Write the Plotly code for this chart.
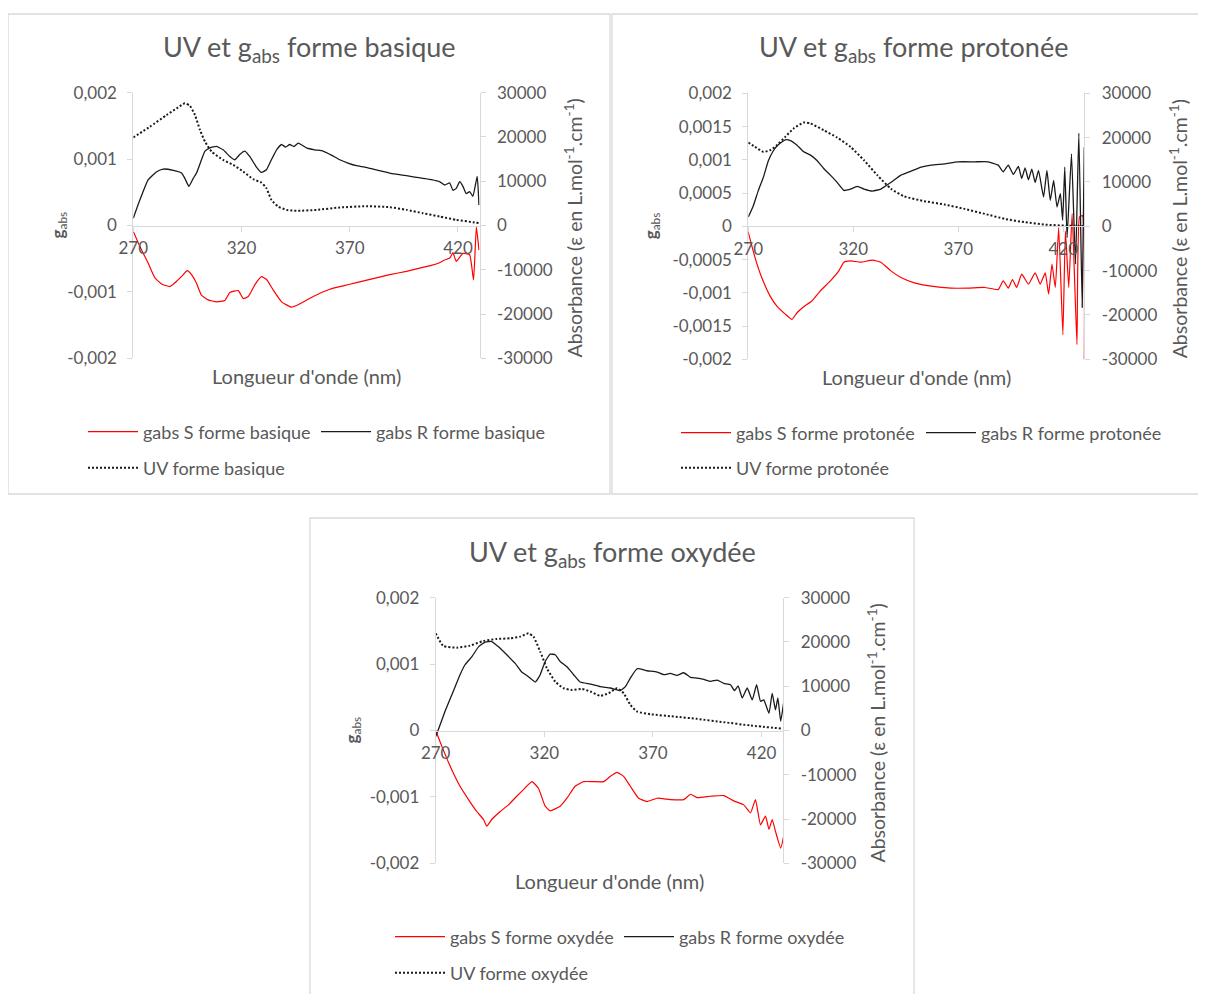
import plotly.graph_objects as go

# ---------------- données lues sur les spectres ----------------
# forme basique
x_s_bas = [270, 273.1, 276.9, 280, 283.1, 286.9, 290, 293.1, 294.9, 296.9, 299.2, 301.5, 304.6, 308.5, 312.3,
           314.6, 318.5, 320.8, 323.1, 326.2, 329.2, 331.5, 334.6, 338.5, 343.1, 346.9, 353.1, 360.8, 366.9,
           373.1, 380.8, 388.5, 396.2, 403.8, 407.7, 411.5, 413.8, 416.2, 417.7, 419.2, 422.3, 425.4, 427.2,
           428.5, 429.7]
g_s_bas = [-0.00009, -0.00032, -0.00057, -0.00079, -0.00088, -0.00092, -0.00084, -0.00074, -0.00068, -0.00074,
           -0.00087, -0.00105, -0.00112, -0.00115, -0.00113, -0.00101, -0.00098, -0.00110, -0.00107, -0.00089,
           -0.00077, -0.00081, -0.00097, -0.00115, -0.00123, -0.00118, -0.00107, -0.00096, -0.00091, -0.00086,
           -0.00080, -0.00074, -0.00069, -0.00063, -0.00060, -0.00056, -0.00052, -0.00049, -0.00041, -0.00054,
           -0.00042, -0.00044, -0.00082, -0.00002, -0.00037]
x_r_bas = [270, 273.1, 276.9, 280.8, 283.8, 288.5, 292.3, 293.8, 295.7, 297.7, 299.2, 301.5, 303.1, 305.4, 308.5,
           311.5, 314.6, 316.9, 319.2, 321.5, 323.8, 326.9, 329.2, 331.5, 333.8, 336.2, 338.5, 340.4, 342.3,
           344.2, 346.2, 350, 353.8, 357.7, 361.5, 365.4, 369.2, 373.1, 376.9, 380.8, 384.6, 388.5, 392.3,
           396.2, 400, 403.8, 407.7, 411.5, 413.8, 416.2, 417.7, 419.2, 420.8, 422.3, 423.8, 425.4, 426.9,
           428.9, 429.7]
g_r_bas = [0.00011, 0.00039, 0.00069, 0.00081, 0.00085, 0.00083, 0.00079, 0.00071, 0.00059, 0.00071, 0.00079,
           0.00099, 0.00112, 0.00117, 0.00119, 0.00114, 0.00104, 0.00099, 0.00107, 0.00112, 0.00104, 0.00088,
           0.00080, 0.00084, 0.00099, 0.00114, 0.00122, 0.00118, 0.00122, 0.00119, 0.00124, 0.00117, 0.00114,
           0.00112, 0.00106, 0.00099, 0.00094, 0.00090, 0.00088, 0.00085, 0.00082, 0.00079, 0.00077, 0.00075,
           0.00073, 0.00071, 0.00069, 0.00066, 0.00061, 0.00064, 0.00053, 0.00056, 0.00066, 0.00059, 0.00048,
           0.00051, 0.00044, 0.00074, 0.00031]
x_uv_bas = [270, 277.7, 285.4, 290, 293.8, 296.2, 298.5, 300.8, 303.1, 306.2, 311.5, 316.2, 320.8, 325.4, 329.2,
            331.5, 333.8, 336.9, 340.8, 345.4, 354.6, 365.4, 377.7, 388.5, 396.2, 403.8, 411.5, 419.2, 426.9, 429.7]
uv_bas = [19900, 22330, 24960, 26470, 27600, 27000, 24960, 21580, 18950, 16690, 14810, 13680, 12180, 10450, 9700,
          8420, 5790, 4290, 3530, 3310, 3530, 4060, 4360, 4140, 3530, 2780, 2030, 1280, 750, 530]

# forme protonée
x_s_pro = [270, 273.2, 276.4, 280.4, 283.6, 287.6, 290.8, 293.2, 296.4, 300.4, 304.3, 309.1, 313.1, 315.5, 318.7,
           323.5, 329.1, 333.1, 337.9, 342.7, 349.1, 357.1, 366.6, 374.6, 382.6, 389, 391.4, 393.8, 395.8, 397.8,
           400.2, 403.4, 406.6, 409, 411.4, 413, 414.6, 416.2, 417.8, 419.8, 421, 422.6, 424.2, 426.5, 427.7,
           429.2, 430]
g_s_pro = [-0.00009, -0.00047, -0.00077, -0.00105, -0.00120, -0.00132, -0.00140, -0.00130, -0.00121, -0.00112,
           -0.00097, -0.00082, -0.00067, -0.00054, -0.00052, -0.00054, -0.00051, -0.00054, -0.00067, -0.00077,
           -0.00085, -0.00090, -0.00093, -0.00093, -0.00092, -0.00095, -0.00082, -0.00093, -0.00080, -0.00092,
           -0.00072, -0.00087, -0.00070, -0.00087, -0.00070, -0.00102, -0.00057, -0.00092, -0.00002, -0.00163,
           -0.00007, -0.00092, 0.00019, -0.00178, 0.00014, 0.00016, -0.00203]
x_r_pro = [270, 272.4, 274.8, 277.2, 279.6, 282, 284.4, 287.6, 290, 293.2, 296.4, 299.6, 302.7, 305.9, 309.1,
           312.3, 315.5, 317.9, 321.9, 325.1, 329.1, 333.1, 337.9, 342.7, 347.5, 352.3, 357.1, 363.5, 369.8,
           377.8, 384.2, 389, 391.4, 393.8, 396.2, 398.6, 400.2, 401.8, 403.4, 405, 406.6, 408.2, 410.6, 412.2,
           413.8, 415.4, 417, 418.6, 419.7, 420.7, 421.8, 423.9, 425.8, 427.4, 429, 430]
g_r_pro = [0.00014, 0.00031, 0.00054, 0.00074, 0.00099, 0.00114, 0.00123, 0.00130, 0.00129, 0.00122, 0.00112,
           0.00107, 0.00099, 0.00087, 0.00077, 0.00066, 0.00054, 0.00055, 0.00060, 0.00056, 0.00053, 0.00056,
           0.00066, 0.00077, 0.00083, 0.00089, 0.00092, 0.00094, 0.00097, 0.00097, 0.00097, 0.00092, 0.00082,
           0.00092, 0.00078, 0.00090, 0.00072, 0.00088, 0.00070, 0.00086, 0.00066, 0.00084, 0.00044, 0.00084,
           0.00039, 0.00069, 0.00029, 0.00049, 0.00009, 0.00089, -0.00017, 0.00109, -0.00057, 0.00140,
           -0.00122, 0.00119]
x_uv_pro = [270, 273.2, 277.2, 280.4, 283.6, 287.6, 291.6, 296.4, 299.6, 305.9, 312.3, 318.7, 325.1, 331.5, 337.9,
            344.3, 353.9, 363.5, 373, 382.6, 392.2, 401.8, 411.4, 421, 430]
uv_pro = [18900, 17910, 16780, 17160, 18290, 20180, 22070, 23430, 23200, 21690, 20030, 17910, 14890, 11490, 8470,
          6730, 5670, 4910, 3930, 2800, 1660, 910, 380, 150, 80]

# forme oxydée
x_s_oxy = [270, 272, 275.1, 278.1, 281.2, 285.1, 288.9, 292, 293.5, 295.8, 299.7, 303.5, 307.3, 310.4, 314.3,
           317.3, 320.4, 322.7, 327.3, 330.4, 334.2, 338.1, 342.7, 347.3, 350.4, 353.4, 356.5, 359.6, 363.4,
           367.3, 371.9, 378, 384.2, 387.3, 390.3, 396.5, 402.6, 407.2, 411.8, 414.9, 417.2, 419.5, 421.8,
           423.4, 424.9, 426.4, 428.8, 430.3]
g_s_oxy = [0, -0.00017, -0.00042, -0.00064, -0.00084, -0.00104, -0.00122, -0.00134, -0.00144, -0.00134, -0.00122,
           -0.00112, -0.00099, -0.00089, -0.00077, -0.00087, -0.00114, -0.00121, -0.00114, -0.00102, -0.00084,
           -0.00077, -0.00077, -0.00077, -0.00069, -0.00063, -0.00069, -0.00084, -0.00102, -0.00107, -0.00102,
           -0.00104, -0.00104, -0.00096, -0.00101, -0.00099, -0.00098, -0.00106, -0.00112, -0.00124, -0.00104,
           -0.00142, -0.00129, -0.00149, -0.00134, -0.00152, -0.00177, -0.00157]
x_r_oxy = [270, 271.2, 274.3, 278.1, 281.2, 283.5, 286.6, 289.7, 292.7, 295.8, 298.9, 302.7, 306.6, 309.6, 312.7,
           315.8, 318.1, 320.4, 322.7, 325, 327.3, 330.4, 333.5, 336.5, 341.2, 345.8, 350.4, 355, 357.3, 359.6,
           362.7, 367.3, 371.9, 375, 378, 381.1, 384.2, 387.3, 390.3, 393.4, 396.5, 399.6, 402.6, 405.7, 407.5,
           409.2, 411.1, 413.4, 415.7, 417.7, 419.5, 421, 423.4, 424.9, 426.4, 427.5, 428.8, 430.3]
g_r_oxy = [-0.00009, 0.00001, 0.00029, 0.00059, 0.00084, 0.00099, 0.00111, 0.00126, 0.00133, 0.00134, 0.00126,
           0.00114, 0.00101, 0.00088, 0.00081, 0.00073, 0.00084, 0.00104, 0.00115, 0.00114, 0.00104, 0.00096,
           0.00084, 0.00073, 0.00070, 0.00066, 0.00064, 0.00060, 0.00066, 0.00079, 0.00093, 0.00090, 0.00088,
           0.00084, 0.00086, 0.00083, 0.00087, 0.00080, 0.00079, 0.00077, 0.00074, 0.00076, 0.00071, 0.00069,
           0.00060, 0.00067, 0.00049, 0.00064, 0.00046, 0.00069, 0.00044, 0.00046, 0.00026, 0.00056, 0.00031,
           0.00049, 0.00014, 0.00045]
x_uv_oxy = [270, 273.5, 279.7, 285.8, 292, 298.1, 304.3, 308.9, 312.7, 315, 318.1, 321.2, 325, 328.9, 332.7,
            337.3, 341.2, 345.8, 349.6, 353.4, 356.5, 359.6, 362.7, 368.8, 379.6, 390.3, 402.6, 414.9, 430.3]
uv_oxy = [21950, 19100, 18720, 19170, 20230, 20680, 20830, 21200, 21950, 21200, 17820, 14060, 11050, 9550, 9170,
          9400, 8800, 7820, 8420, 9550, 8420, 5790, 4290, 3680, 3160, 2630, 1880, 1130, 380]

# graduations
x_ticks = [270, 320, 370, 420]
g_ticks = [-0.002, -0.001, 0, 0.001, 0.002]
g_labels = ["-0,002", "-0,001", "0", "0,001", "0,002"]
g_ticks_fin = [-0.002, -0.0015, -0.001, -0.0005, 0, 0.0005, 0.001, 0.0015, 0.002]
g_labels_fin = ["-0,002", "-0,0015", "-0,001", "-0,0005", "0", "0,0005", "0,001", "0,0015", "0,002"]
uv_ticks = [-30000, -20000, -10000, 0, 10000, 20000, 30000]
uv_labels = ["-30000", "-20000", "-10000", "0", "10000", "20000", "30000"]

# ---------------- mise en page ----------------
# la page ajoute une marge de 8 px autour de la figure : on la retire des coordonnées
DEC = 8
W, H = 1206 - DEC, 994 - DEC
GRIS = "#d9d9d9"
TXT = "#595959"
FONT = "Lato"


def fx(p):
    return (p - DEC) / W


def fy(p):
    return 1 - (p - DEC) / H


graphes = [
    dict(forme="basique", s=(x_s_bas, g_s_bas), r=(x_r_bas, g_r_bas), uv=(x_uv_bas, uv_bas),
         ticks=(g_ticks, g_labels), cadre=(8, 14, 610, 494), zone=(133.3, 92.7, 479.6, 358.3),
         leg_x=83, leg_y=(432, 468), entree=168, ytit_x=58, atit_x=573, titre_x=309),
    dict(forme="protonée", s=(x_s_pro, g_s_pro), r=(x_r_pro, g_r_pro), uv=(x_uv_pro, uv_pro),
         ticks=(g_ticks_fin, g_labels_fin), cadre=(612, 14, 1212, 494), zone=(748.3, 93.3, 1084.3, 359.3),
         leg_x=676, leg_y=(433, 468), entree=180, ytit_x=652, atit_x=1178, titre_x=913),
    dict(forme="oxydée", s=(x_s_oxy, g_s_oxy), r=(x_r_oxy, g_r_oxy), uv=(x_uv_oxy, uv_oxy),
         ticks=(g_ticks, g_labels), cadre=(310, 518, 914, 1000), zone=(435.7, 597.7, 783.3, 863.3),
         leg_x=390, leg_y=(937, 973), entree=164, ytit_x=352, atit_x=876, titre_x=612),
]

fig = go.Figure()
layout = dict(width=W, height=H, margin=dict(l=0, r=0, t=0, b=0, autoexpand=False),
              paper_bgcolor="white", plot_bgcolor="rgba(0,0,0,0)",
              font=dict(family=FONT, color=TXT, size=17), shapes=[], annotations=[])

axe = dict(showgrid=False, zeroline=False, showline=True, linecolor=GRIS, linewidth=1,
           ticks="outside", ticklen=5, tickcolor=GRIS, tickwidth=1, automargin=False,
           tickfont=dict(family=FONT, color=TXT, size=17))


def note(texte, x, y, taille, angle=0):
    return dict(text=texte, x=fx(x), y=fy(y), xref="paper", yref="paper", xanchor="center",
                yanchor="middle", showarrow=False, textangle=angle,
                font=dict(size=taille, color=TXT, family=FONT))


for i, g in enumerate(graphes):
    n = i + 1
    xa = "x" if n == 1 else f"x{n}"
    ya_g = "y" if n == 1 else f"y{2 * n - 1}"
    ya_uv = f"y{2 * n}"
    l1 = "legend" if n == 1 else f"legend{2 * n - 1}"
    l2 = f"legend{2 * n}"

    x0, y0, x1, y1 = g["zone"]
    dom_x = [fx(x0), fx(x1)]
    dom_y = [fy(y1), fy(y0)]

    fig.add_trace(go.Scatter(x=g["s"][0], y=g["s"][1], mode="lines", name=f"gabs S forme {g['forme']}",
                             line=dict(color="#ff0000", width=1.2, shape="spline", smoothing=0.4),
                             xaxis=xa, yaxis=ya_g, legend=l1))
    fig.add_trace(go.Scatter(x=g["r"][0], y=g["r"][1], mode="lines", name=f"gabs R forme {g['forme']}",
                             line=dict(color="#1a1a1a", width=1.3, shape="spline", smoothing=0.4),
                             xaxis=xa, yaxis=ya_g, legend=l1))
    fig.add_trace(go.Scatter(x=g["uv"][0], y=g["uv"][1], mode="lines", name=f"UV forme {g['forme']}",
                             line=dict(color="#1a1a1a", width=2, dash="2px,2px", shape="spline", smoothing=0.5),
                             xaxis=xa, yaxis=ya_uv, legend=l2))

    kx = "xaxis" if n == 1 else f"xaxis{n}"
    kg = "yaxis" if n == 1 else f"yaxis{2 * n - 1}"
    kuv = f"yaxis{2 * n}"
    layout[kx] = dict(axe, domain=dom_x, range=[270, 430], tickvals=x_ticks, anchor="free",
                      position=(dom_y[0] + dom_y[1]) / 2, ticklabelstandoff=2)
    layout[kg] = dict(axe, domain=dom_y, range=[-0.002, 0.002], tickvals=g["ticks"][0],
                      ticktext=g["ticks"][1], anchor=xa, ticklabelstandoff=7)
    layout[kuv] = dict(axe, range=[-30000, 30000], tickvals=uv_ticks, ticktext=uv_labels,
                       overlaying=ya_g, side="right", anchor=xa, ticklabelstandoff=8)

    leg = dict(orientation="h", xanchor="left", yanchor="middle", bgcolor="rgba(0,0,0,0)",
               font=dict(family=FONT, color=TXT, size=18), itemwidth=50, tracegroupgap=0)
    layout[l1] = dict(leg, x=fx(g["leg_x"]), y=fy(g["leg_y"][0]), entrywidth=g["entree"],
                      entrywidthmode="pixels")
    layout[l2] = dict(leg, x=fx(g["leg_x"]), y=fy(g["leg_y"][1]))

    cx0, cy0, cx1, cy1 = g["cadre"]
    layout["shapes"].append(dict(type="rect", xref="paper", yref="paper", x0=fx(cx0), x1=fx(cx1),
                                 y0=fy(cy1), y1=fy(cy0), line=dict(color=GRIS, width=1.3), layer="below"))

    ymid = (y0 + y1) / 2
    layout["annotations"] += [
        note(f"UV et g<sub>abs</sub> forme {g['forme']}", g["titre_x"], cy0 + 35, 27),
        note("Longueur d'onde (nm)", (x0 + x1) / 2, y1 + 18, 20),
        note("<b>g</b><sub>abs</sub>", g["ytit_x"], ymid, 17, -90),
        note("Absorbance (ε en L.mol<sup>-1</sup>.cm<sup>-1</sup>)", g["atit_x"], ymid + 3, 19.5, -90),
    ]

fig.update_layout(**layout)
fig.write_html("out.html")
